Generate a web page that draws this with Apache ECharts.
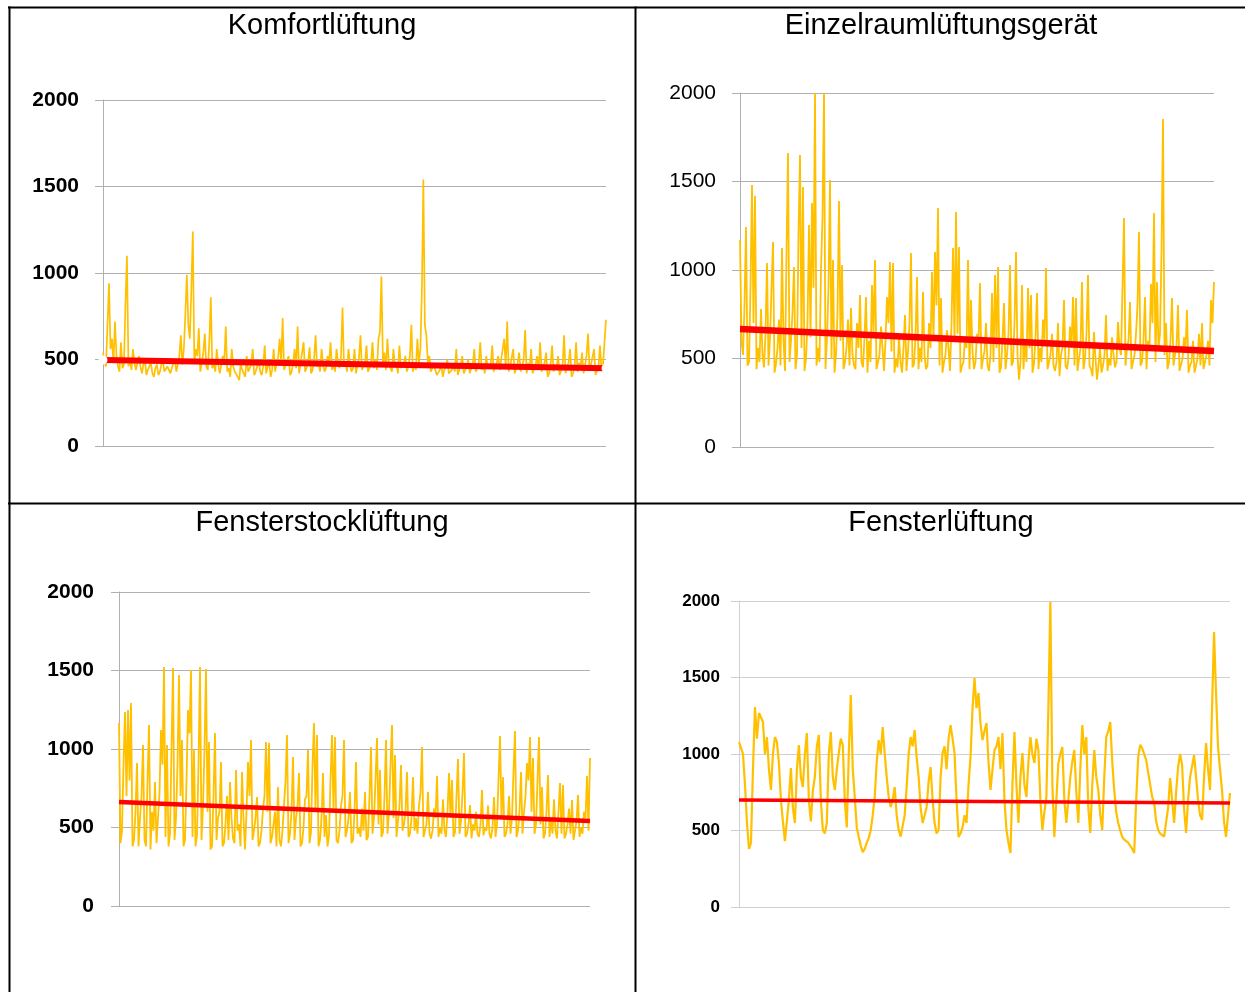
<!DOCTYPE html>
<html>
<head>
<meta charset="utf-8">
<script src="https://cdn.jsdelivr.net/npm/echarts@6/dist/echarts.min.js"></script>
<style>
html,body{margin:0;padding:0;background:#fff;}
#chart{width:1245px;height:992px;}
</style>
</head>
<body>
<div id="chart"></div>
<script>
// ---- DATA ----
const titles = ['Komfortlüftung', 'Einzelraumlüftungsgerät', 'Fensterstocklüftung', 'Fensterlüftung'];
const yTicks = [0, 500, 1000, 1500, 2000];

const komfortValues = [540,480,460,700,940,560,620,480,720,520,460,430,600,450,470,820,1100,460,500,440,
560,480,440,430,520,460,420,470,500,410,440,460,480,420,400,450,470,410,430,470,
490,430,420,460,470,420,450,480,500,430,440,520,640,470,560,760,990,700,620,900,
1240,480,560,520,680,430,480,540,650,460,440,600,860,450,470,430,560,470,420,410,
520,480,690,430,450,400,560,460,430,420,400,380,480,440,420,400,520,430,450,470,
560,410,430,460,500,430,410,460,580,420,460,480,400,440,560,430,480,510,620,480,
740,440,470,460,520,410,430,480,560,450,690,420,480,470,600,430,450,490,570,420,
440,500,640,460,480,430,560,470,430,450,520,480,600,440,470,430,560,480,450,520,
800,460,480,430,560,470,430,450,560,420,470,510,640,440,460,480,580,430,440,470,
600,450,500,440,620,660,980,480,540,440,620,470,460,430,560,460,480,420,580,450,
440,480,520,430,460,520,700,430,480,440,620,480,560,900,1540,700,640,480,520,430,
450,470,480,410,420,440,470,400,440,460,500,420,410,440,470,430,560,410,440,470,
520,420,420,460,500,420,450,470,560,430,420,480,600,440,470,420,520,450,440,470,
580,430,460,480,520,440,430,560,620,460,720,430,460,470,560,420,430,480,540,430,
460,500,670,420,480,450,560,420,430,470,520,440,600,430,460,480,540,400,420,470,
580,430,470,450,520,410,400,460,640,420,460,480,560,400,420,450,600,430,480,460,
540,420,430,520,650,440,470,480,560,410,420,460,580,440,470,600,730];
const komfortTrend = [497, 450];

const einzelValues = [1170,600,520,800,1243,460,480,900,1480,700,1420,440,560,480,780,520,450,640,1040,460,
620,900,1158,420,470,560,720,460,1124,600,430,1100,1661,480,600,760,1017,440,520,1200,
1650,560,1469,430,500,700,1254,620,1379,900,2000,460,560,480,1000,1300,2000,440,620,900,
1508,500,1056,420,520,760,1390,600,1028,440,480,560,720,460,785,520,460,440,700,560,
859,480,450,620,847,420,600,480,915,640,1056,440,480,520,680,560,430,600,847,700,
1045,540,1040,420,500,450,620,480,420,560,746,430,540,700,1096,450,470,620,960,440,
560,480,876,520,440,460,700,560,989,600,1102,800,1350,460,842,420,480,520,660,560,
430,700,1124,600,1328,640,1130,420,460,480,620,560,1056,440,830,540,440,480,640,600,
926,440,500,540,700,460,430,520,870,480,972,560,1017,420,450,600,813,440,520,640,
1028,460,480,700,1102,520,380,480,915,440,600,480,898,560,859,420,470,620,870,440,
560,480,720,600,1011,440,450,520,640,460,430,480,700,400,520,560,830,460,440,500,
680,560,847,460,842,430,420,560,932,440,500,640,972,460,440,400,650,500,380,460,
560,420,460,520,746,430,500,460,620,520,450,480,706,560,520,900,1294,460,560,600,
819,440,430,520,640,800,1215,460,480,600,847,440,600,560,921,700,1322,480,932,560,
640,1100,1853,520,700,440,480,600,842,460,520,560,802,430,440,500,620,560,774,420,
460,480,600,420,420,500,640,460,700,440,430,520,600,460,830,700,932];
const einzelTrend = [667, 542];

const fensterstockValues = [1165,400,480,900,1236,700,1248,800,1293,380,420,600,911,380,560,700,1025,420,380,800,
1153,360,600,480,790,400,400,720,1121,900,1522,440,1025,380,460,1000,1516,420,560,900,
1471,700,1057,380,420,800,1248,1100,1503,440,994,380,450,900,1522,420,640,1000,1510,600,
1045,360,380,700,1102,420,560,600,917,380,400,520,700,420,790,560,430,400,866,480,
520,380,854,560,360,600,917,700,1057,420,480,560,694,380,400,480,620,700,1045,600,
1040,400,440,520,600,380,758,420,380,480,640,800,1089,400,460,600,949,420,560,640,
847,380,400,500,680,700,994,400,470,900,1165,600,1089,380,420,560,847,440,580,380,
450,800,1089,600,1076,420,400,480,640,700,1057,440,480,560,726,400,420,600,917,460,
500,440,620,480,726,420,440,700,1013,460,560,800,1070,520,866,440,470,700,1057,460,
600,900,1153,560,962,440,450,640,898,480,520,600,854,440,460,560,822,480,560,460,
640,720,1013,440,480,520,726,460,430,480,620,560,828,440,500,460,680,480,440,600,
847,560,803,440,470,700,936,460,540,720,975,440,460,520,643,430,520,480,600,460,
440,520,739,450,500,480,640,460,430,500,694,440,520,800,1083,560,822,440,460,520,
700,460,560,860,1115,440,480,600,854,460,600,700,911,800,1076,600,943,460,520,800,
1076,520,758,430,460,600,834,440,560,460,680,480,430,600,783,460,771,430,460,520,
620,460,675,420,420,540,707,440,500,460,600,560,828,480,943];
const fensterstockTrend = [662, 541];

const fensterValues = [1078,1040,1000,800,549,380,420,900,1307,1100,1268,1240,1209,1000,1111,900,765,1000,1111,1080,
941,700,560,430,425,700,908,650,549,900,1059,850,784,1000,1137,700,560,760,850,1050,
1124,700,503,480,549,1000,1144,850,765,900,1006,1100,1059,700,520,1000,1386,900,719,520,
458,400,359,380,420,450,503,600,719,950,1091,1000,1176,1000,850,720,654,700,784,600,
503,460,451,600,784,1000,1111,1050,1157,980,850,650,549,600,654,820,915,700,549,480,
503,850,1006,1050,900,1100,1189,1100,1006,700,458,480,520,600,549,800,980,1300,1497,1300,
1399,1200,1091,1150,1202,950,765,900,1026,1050,1111,900,1137,700,503,420,353,800,1144,800,
549,850,1006,800,719,950,1111,1000,941,1100,1026,700,503,620,719,1300,1993,800,458,700,
941,1000,1046,700,549,700,850,950,1026,750,549,900,1189,1000,1111,650,484,800,1026,850,
765,600,503,850,1111,1150,1209,950,765,620,549,500,458,440,430,420,418,380,353,700,
980,1060,1039,1000,961,880,800,720,680,560,503,480,470,460,458,650,843,700,549,750,
915,1000,928,640,484,700,850,920,993,850,700,600,569,850,1072,900,765,1300,1797,1400,
1046,900,765,560,458,600,745];
const fensterTrend = [699, 680];

// ---- STYLE / LAYOUT ----
const panels = [
  {values: komfortValues, trend: komfortTrend, grid: {left: 103, top: 100, width: 503, height: 346},
   label: {fontSize: 21, fontWeight: 'bold', margin: 24}, red: 6, orange: 1.7, grid_c: '#b0b0b0', endMarks: true},
  {values: einzelValues, trend: einzelTrend, grid: {left: 740, top: 93, width: 474, height: 354},
   label: {fontSize: 21, fontWeight: 'normal', margin: 24}, red: 6.5, orange: 1.8, grid_c: '#b0b0b0', endMarks: false},
  {values: fensterstockValues, trend: fensterstockTrend, grid: {left: 119, top: 592, width: 471, height: 314},
   label: {fontSize: 21, fontWeight: 'bold', margin: 25}, red: 4.5, orange: 1.8, grid_c: '#b0b0b0', endMarks: false},
  {values: fensterValues, trend: fensterTrend, grid: {left: 739, top: 601, width: 491, height: 306},
   label: {fontSize: 17, fontWeight: 'bold', margin: 19}, red: 3.5, orange: 2.2, grid_c: '#d0d0d0', endMarks: false}
];
const titlePos = [[322, 26], [941, 26], [322, 523], [941, 523]];

const grids = [], xAxes = [], yAxes = [], series = [];
panels.forEach((p, k) => {
  grids.push(Object.assign({containLabel: false}, p.grid));
  xAxes.push({type: 'value', gridIndex: k, min: 0, max: p.values.length - 1, show: false});
  yAxes.push({
    type: 'value', gridIndex: k, min: yTicks[0], max: yTicks[yTicks.length - 1], interval: yTicks[1] - yTicks[0],
    axisLine: {show: true, lineStyle: {color: p.grid_c, width: 1}},
    axisTick: {show: true, length: 8, lineStyle: {color: p.grid_c}},
    axisLabel: {color: '#000', fontFamily: 'Liberation Sans', fontSize: p.label.fontSize,
                fontWeight: p.label.fontWeight, margin: p.label.margin, formatter: v => String(v)},
    splitLine: {show: true, lineStyle: {color: p.grid_c, width: 1}}
  });
  series.push({
    type: 'line', xAxisIndex: k, yAxisIndex: k, showSymbol: false, symbol: 'none',
    data: p.values.map((v, i) => [i, v]),
    lineStyle: {color: '#FFC000', width: p.orange}, z: 2, animation: false
  });
  series.push({
    type: 'line', xAxisIndex: k, yAxisIndex: k,
    symbol: p.endMarks ? 'emptyCircle' : 'none', symbolSize: 7, showSymbol: p.endMarks,
    itemStyle: {color: '#fff', borderColor: '#9aa8b8', borderWidth: 1.5},
    data: [[0, p.trend[0]], [p.values.length - 1, p.trend[1]]],
    lineStyle: {color: '#FF0000', width: p.red}, z: 3, animation: false
  });
});

const graphics = [];
const borderLines = [
  [8, 7.5, 1245, 7.5], [9.5, 6.5, 9.5, 992], [635.5, 6.5, 635.5, 992], [8, 503.5, 1245, 503.5]
];
borderLines.forEach(l => graphics.push({
  type: 'line', shape: {x1: l[0], y1: l[1], x2: l[2], y2: l[3]},
  style: {stroke: '#000', lineWidth: 2}, silent: true
}));
titles.forEach((t, k) => graphics.push({
  type: 'text', x: titlePos[k][0], y: titlePos[k][1],
  style: {text: t, font: '29px "Liberation Sans", Arial, sans-serif', fill: '#000',
          textAlign: 'center', textVerticalAlign: 'middle', align: 'center', verticalAlign: 'middle'}
}));

const chart = echarts.init(document.getElementById('chart'), null, {renderer: 'canvas'});
chart.setOption({
  animation: false,
  backgroundColor: '#fff',
  grid: grids, xAxis: xAxes, yAxis: yAxes, series: series,
  graphic: graphics
});
</script>
</body>
</html>
